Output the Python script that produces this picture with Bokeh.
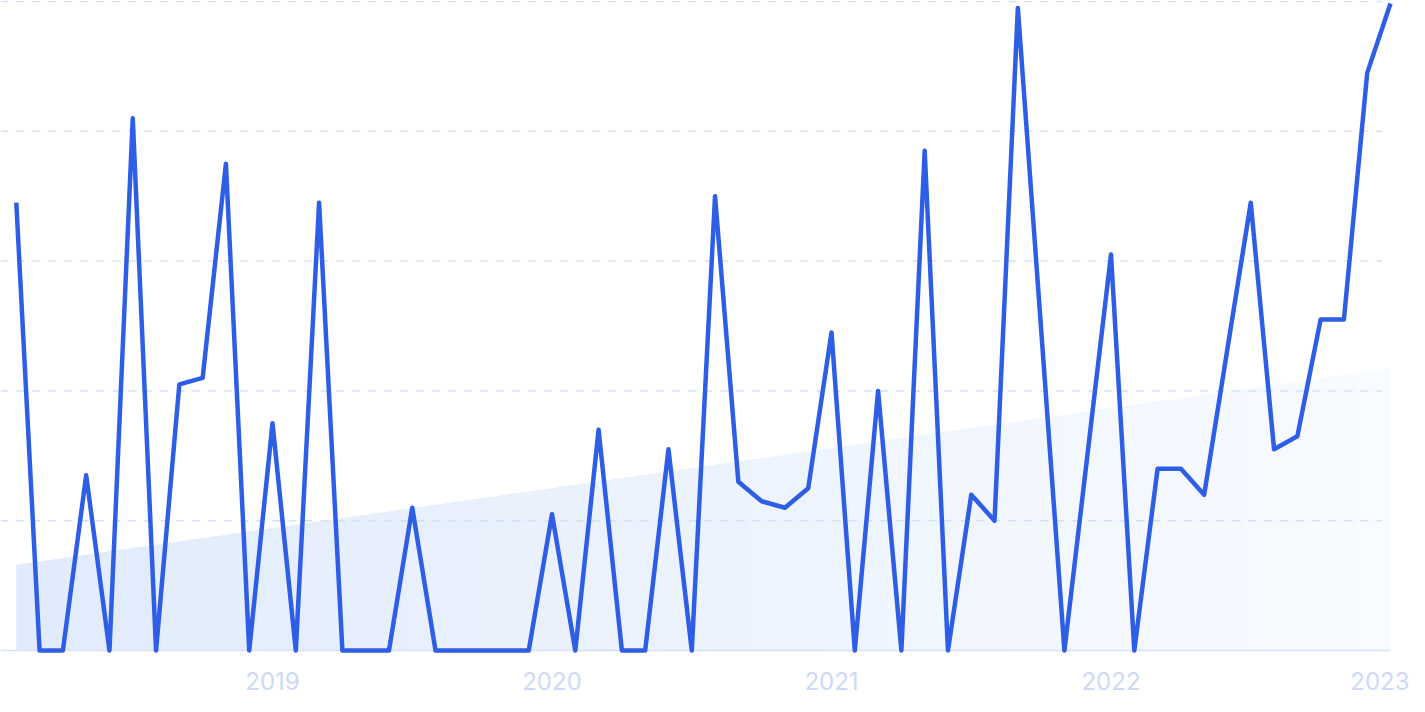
from bokeh.plotting import figure
from bokeh.models import Range1d, FixedTicker
from bokeh.embed import file_html
from bokeh.resources import INLINE

# ---- data ----
start_year = 2018
start_month = 2  # February 2018
values = [69, 0, 0, 27, 0, 82, 0, 41, 42, 75,
          0, 35, 0, 69, 0, 0, 0, 22, 0, 0,
          0, 0, 0, 21, 0, 34, 0, 0, 31, 0,
          70, 26, 23, 22, 25, 49, 0, 40, 0, 77,
          0, 24, 20, 99, 49.5, 0, 30.5, 61, 0, 28,
          28, 24, 46.5, 69, 31, 33, 51, 51, 89, 99.7]
tick_years = [2019, 2020, 2021, 2022, 2023]
grid_levels = [20, 40, 60, 80, 100]
trend_start = 13.2
trend_end = 43.5

x = [start_year + (start_month - 1 + i) / 12 for i in range(len(values))]

# ---- figure ----
W, H = 1409, 696
p = figure(width=W, height=H, output_backend="svg", toolbar_location=None,
           x_range=Range1d(2018.0268, 2018.0268 + W / 279.5),
           y_range=Range1d(-1.23, 100.15),
           min_border_left=0, min_border_right=0, min_border_top=0, min_border_bottom=H - 658)
p.outline_line_color = None
p.background_fill_color = "white"
p.border_fill_color = "white"
p.grid.visible = False
p.yaxis.visible = False

# trend area with horizontal gradient (strips)
n = 120
x0, x1 = x[0], x[-1]
c0 = (225, 235, 252)
c1 = (248, 251, 255)
xs, ys, cols = [], [], []
for k in range(n):
    a = x0 + (x1 - x0) * k / n
    b = x0 + (x1 - x0) * min(k + 1.6, n) / n
    ta = trend_start + (trend_end - trend_start) * (a - x0) / (x1 - x0)
    tb = trend_start + (trend_end - trend_start) * (b - x0) / (x1 - x0)
    xs.append([a, b, b, a])
    ys.append([0, 0, tb, ta])
    t = k / (n - 1)
    c = tuple(int(round(c0[j] + (c1[j] - c0[j]) * t)) for j in range(3))
    cols.append("#%02x%02x%02x" % c)
p.patches(xs, ys, fill_color=cols, line_color=None)

# gridlines
gx0 = p.x_range.start
gx1 = x[-1] - 0.03
p.segment(x0=[gx0] * len(grid_levels), y0=grid_levels, x1=[gx1] * len(grid_levels), y1=grid_levels,
          line_color="#d3e0fb", line_width=1.5, line_dash="8 8")
p.segment(x0=[gx0], y0=[0], x1=[x[-1]], y1=[0], line_color="#d6e2fb", line_width=1.5)

# main line
p.line(x, values, line_color="#2F5EE6", line_width=4.5, line_join="round")

# x axis
p.xaxis.ticker = FixedTicker(ticks=tick_years)
p.xaxis.axis_line_color = None
p.xaxis.major_tick_line_color = None
p.xaxis.minor_tick_line_color = None
p.xaxis.major_tick_out = 0
p.xaxis.major_label_standoff = 13
p.xaxis.major_label_text_font = "Inter"
p.xaxis.major_label_text_font_size = "24px"
p.xaxis.major_label_text_color = "#cdd9f6"

open("out.html", "w").write(file_html(p, INLINE))
